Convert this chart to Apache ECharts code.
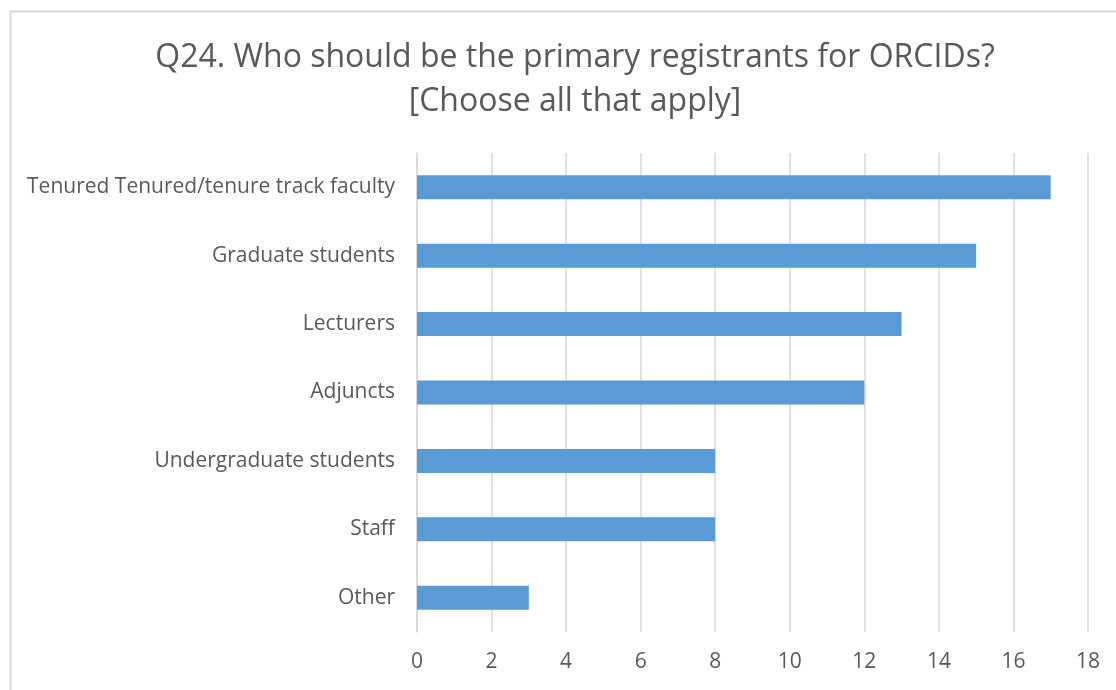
<!DOCTYPE html>
<html>
<head>
<meta charset="utf-8">
<script src="https://cdn.jsdelivr.net/npm/echarts@6/dist/echarts.min.js"></script>
<style>
html,body{margin:0;padding:0;background:#fff;}
#chart{width:1116px;height:690px;}
</style>
</head>
<body>
<div id="chart"></div>
<script>
const titleText = 'Q24. Who should be the primary registrants for ORCIDs?\n[Choose all that apply]';
const categories = ['Tenured Tenured/tenure track faculty','Graduate students','Lecturers','Adjuncts','Undergraduate students','Staff','Other'];
const counts = [17, 15, 13, 12, 8, 8, 3];
const xTicks = { min: 0, max: 18, interval: 2 };

const chart = echarts.init(document.getElementById('chart'));
chart.setOption({
  animation: false,
  backgroundColor: '#ffffff',
  graphic: [{
    type: 'rect', left: 8, top: 9,
    shape: { width: 1200, height: 800 },
    style: { fill: 'none', stroke: '#d9d9d9', lineWidth: 2 },
    silent: true
  }],
  title: {
    text: titleText,
    left: 570, top: 31, textAlign: 'center',
    textStyle: { fontFamily: 'Open Sans', fontSize: 32, fontWeight: 'normal', color: '#595959', lineHeight: 44 }
  },
  grid: { left: 417, right: 28, top: 153, bottom: 58, containLabel: false },
  xAxis: {
    type: 'value', min: xTicks.min, max: xTicks.max, interval: xTicks.interval,
    axisLine: { show: false }, axisTick: { show: false },
    splitLine: { show: true, lineStyle: { color: '#d9d9d9', width: 1.5 } },
    axisLabel: { fontFamily: 'Open Sans', fontSize: 21, color: '#595959', margin: 20 }
  },
  yAxis: {
    type: 'category', data: categories, inverse: true,
    axisLine: { show: true, lineStyle: { color: '#d9d9d9', width: 1.5 } },
    axisTick: { show: false },
    axisLabel: { fontFamily: 'Open Sans', fontSize: 21, color: '#595959', margin: 22 }
  },
  series: [{
    type: 'bar', data: counts, barWidth: 24,
    itemStyle: { color: '#5b9bd5' }
  }]
});
</script>
</body>
</html>
